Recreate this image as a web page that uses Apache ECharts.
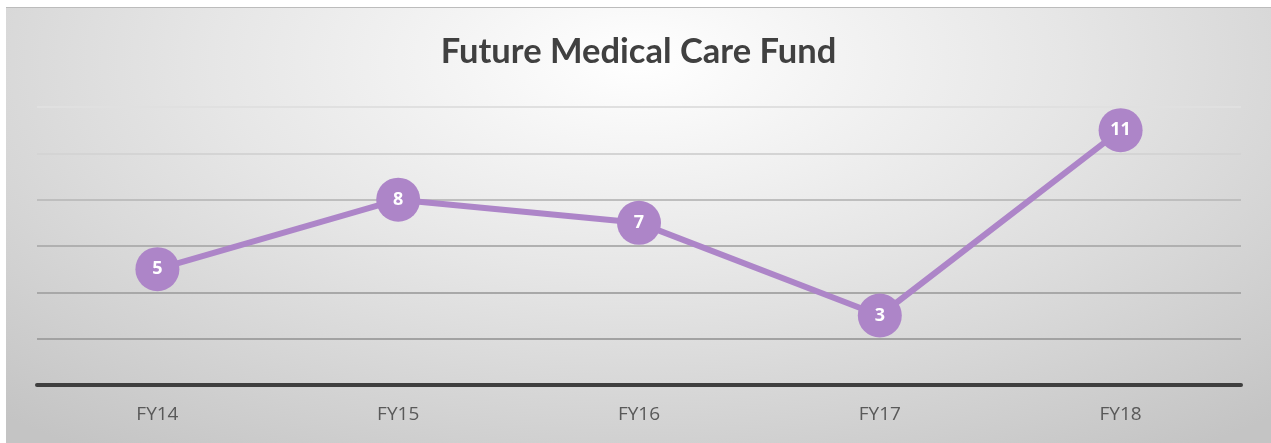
<!DOCTYPE html>
<html>
<head>
<meta charset="utf-8">
<script src="https://cdn.jsdelivr.net/npm/echarts@6/dist/echarts.min.js"></script>
<style>
  html, body { margin: 0; padding: 0; background: #ffffff; }
  #main {
    position: absolute;
    left: 6px;
    top: 7px;
    width: 1265px;
    height: 436px;
    border-top: 1px solid #bcbcbc;
    background: radial-gradient(ellipse 75% 110% at 50% 12%, #ffffff 0%, #e6e6e6 45%, #c4c4c4 100%);
  }
</style>
</head>
<body>
<div id="main"></div>
<script>
  // 数据
  const years = ['FY14', 'FY15', 'FY16', 'FY17', 'FY18'];
  const fundValues = [5, 8, 7, 3, 11];
  const gridColors = ['#9c9c9c', '#a2a2a2', '#a8a8a8', '#b0b0b0', '#bebebe', '#d4d4d4', '#e0e0e0'];

  let chart = echarts.init(document.getElementById('main'));
  let option = {
    title: {
      text: 'Future Medical Care Fund',
      left: 'center',
      top: 21,
      textStyle: {
        fontFamily: 'Lato',
        fontWeight: 'bold',
        fontSize: 34.5,
        color: '#404040'
      }
    },
    grid: {
      left: 31,
      right: 30,
      top: 99,
      bottom: 59
    },
    xAxis: {
      type: 'category',
      data: years,
      boundaryGap: true,
      axisLine: {lineStyle: {color: '#3f3f3f', width: 4}},
      axisTick: {show: false},
      axisLabel: {
        margin: 20,
        fontFamily: 'Open Sans',
        fontSize: 19,
        color: '#595959'
      }
    },
    yAxis: {
      type: 'value',
      min: 0,
      max: 12,
      interval: 2,
      axisLabel: {show: false},
      axisLine: {show: false},
      axisTick: {show: false},
      splitLine: {lineStyle: {color: gridColors, width: 2}}
    },
    series: [
      {
        type: 'line',
        data: fundValues,
        symbol: 'circle',
        symbolSize: 44,
        lineStyle: {color: '#ad85c8', width: 6},
        itemStyle: {color: '#ad85c8'},
        label: {
          show: true,
          position: 'inside',
          fontFamily: 'Open Sans',
          fontWeight: 'bold',
          fontSize: 18,
          color: '#ffffff'
        }
      }
    ]
  };
  chart.setOption(option);
</script>
</body>
</html>
